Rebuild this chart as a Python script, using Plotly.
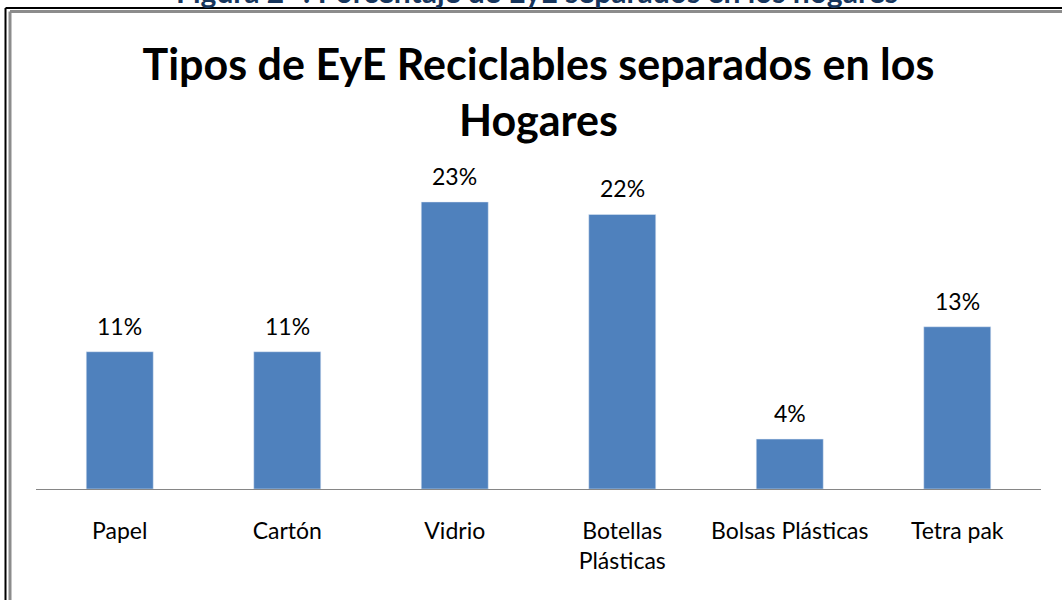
import plotly.graph_objects as go

categories = ["Papel", "Cartón", "Vidrio", "Botellas<br>Plásticas", "Bolsas Plásticas", "Tetra pak"]
values = [11, 11, 23, 22, 4, 13]
labels = ["11%", "11%", "23%", "22%", "4%", "13%"]

W, H = 1062, 600
L, R, T, B = 36, 21, 177, 111
pw, ph = W - L - R, H - T - B

def px(x):
    return (x - L) / pw

def py(y):
    return (H - B - y) / ph

FONT = "Lato, Calibri, Carlito, sans-serif"

fig = go.Figure(go.Bar(x=categories, y=values, marker_color="#4F81BD", width=0.4))

for c, v, t in zip(categories, values, labels):
    fig.add_annotation(x=c, y=v, text=t, showarrow=False, yanchor="bottom", yshift=10,
                       font=dict(size=23, color="#000000", family=FONT))

fig.add_annotation(xref="paper", yref="paper", x=px(537), y=py(11), yanchor="bottom", xanchor="center",
                   text="<b>Figura 2- : Porcentaje de EyE separados en los hogares</b>", showarrow=False,
                   font=dict(size=30, color="#17365D", family=FONT))

shapes = [
    dict(type="line", xref="paper", yref="paper", x0=px(5.5), x1=px(1070), y0=py(8), y1=py(8),
         line=dict(color="#000000", width=2)),
    dict(type="line", xref="paper", yref="paper", x0=px(10), x1=px(1070), y0=py(11.5), y1=py(11.5),
         line=dict(color="#8C8C8C", width=3)),
    dict(type="line", xref="paper", yref="paper", x0=px(5.5), x1=px(5.5), y0=py(8), y1=py(610),
         line=dict(color="#000000", width=2)),
    dict(type="line", xref="paper", yref="paper", x0=px(10), x1=px(10), y0=py(11.5), y1=py(610),
         line=dict(color="#8C8C8C", width=3)),
]

fig.update_layout(
    width=W, height=H,
    margin=dict(l=L, r=R, t=T, b=B, autoexpand=False),
    paper_bgcolor="white", plot_bgcolor="white",
    showlegend=False,
    shapes=shapes,
    title=dict(text="<b>Tipos de EyE Reciclables separados en los<br>Hogares</b>",
               x=0.5, xanchor="center", xref="paper", y=1 - 80 / H, yanchor="middle",
               font=dict(size=43, color="#000000", family=FONT)),
    xaxis=dict(showline=True, linecolor="#868686", linewidth=1, ticks="", showgrid=False,
               tickfont=dict(size=23, color="#000000", family=FONT), ticklabelstandoff=21),
    yaxis=dict(range=[0, 25], visible=False, showgrid=False, zeroline=False),
)

fig.write_html("out.html", config={"displayModeBar": False},
               post_script="document.body.style.margin='0';document.body.style.padding='0';")
